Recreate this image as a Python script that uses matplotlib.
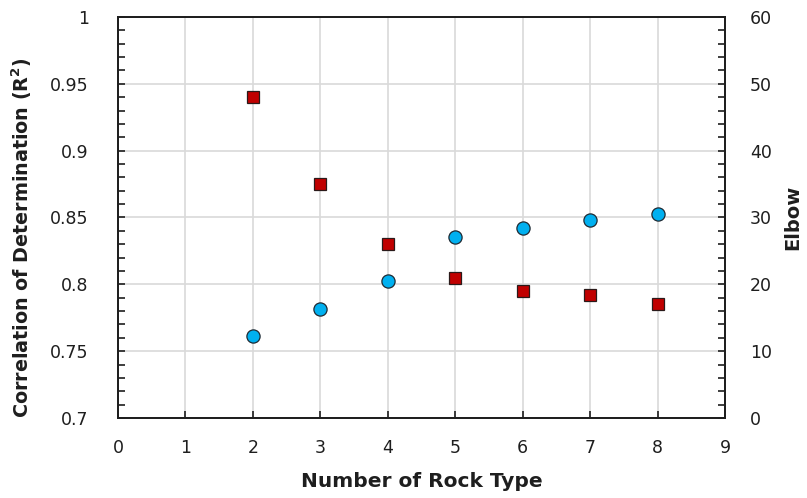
import matplotlib
matplotlib.use("Agg")
import matplotlib.pyplot as plt
from matplotlib.ticker import MultipleLocator

plt.rcParams["font.family"] = ["DejaVu Sans"]

# data
rock_types = [2, 3, 4, 5, 6, 7, 8]
r2_values = [0.7614, 0.7819, 0.8024, 0.8351, 0.8419, 0.8484, 0.8526]
elbow_values = [48, 35, 26, 21, 19, 18.4, 17]

fig = plt.figure(figsize=(8.07, 4.98), dpi=100)
ax = fig.add_axes([118 / 807, 80 / 498, (725 - 118) / 807, (418 - 17) / 498])
ax2 = ax.twinx()

grid_color = "#D9D9D9"
text_color = "#1E1E1E"
ax.set_xlim(0, 9)
ax.set_ylim(0.7, 1.0)
ax2.set_ylim(0, 60)
ax.set_xticks(range(0, 10))
ax.set_yticks([0.7, 0.75, 0.8, 0.85, 0.9, 0.95, 1.0])
ax.set_yticklabels(["0.7", "0.75", "0.8", "0.85", "0.9", "0.95", "1"])
ax.yaxis.set_minor_locator(MultipleLocator(0.01))
ax2.set_yticks(range(0, 61, 10))
ax2.yaxis.set_minor_locator(MultipleLocator(2))

ax.grid(True, which="major", color=grid_color, linewidth=1.2)
ax.set_axisbelow(True)

ax.tick_params(axis="x", direction="in", length=5, width=1.2, labelsize=12.5, pad=15, colors=text_color)
ax.tick_params(axis="y", which="both", direction="in", length=5, width=1.2, labelsize=12.5, pad=21,
               colors=text_color, right=False)
ax2.tick_params(axis="y", which="both", direction="in", length=5, width=1.2, labelsize=12.5, pad=18,
                colors=text_color)
for a in (ax, ax2):
    for s in a.spines.values():
        s.set_linewidth(1.3)
        s.set_color(text_color)

ax.plot(rock_types, r2_values, linestyle="none", marker="o", markersize=9.5,
        markerfacecolor="#00B0F0", markeredgecolor="#1F2A33", markeredgewidth=0.9, zorder=3)
ax2.plot(rock_types, elbow_values, linestyle="none", marker="s", markersize=8.5,
         markerfacecolor="#C00000", markeredgecolor="#2A1A1A", markeredgewidth=0.9, zorder=3)

ax.set_xlabel("Number of Rock Type", fontsize=14.5, fontweight="bold", color=text_color)
ax.set_ylabel("Correlation of Determination (R$^\\mathbf{2}$)", fontsize=13.8, fontweight="bold",
              color=text_color)
ax2.set_ylabel("Elbow", fontsize=14, fontweight="bold", color=text_color)

# place axis titles where the reference has them
ax.xaxis.set_label_coords(0.5, (418 - 481) / 401)
ax.xaxis.label.set_va("center")
ax.yaxis.set_label_coords((22 - 118) / 607, (418 - 238) / 401)
ax.yaxis.label.set_va("center")
ax2.yaxis.set_label_coords((793 - 118) / 607, 0.5)
ax2.yaxis.label.set_va("center")

fig.savefig("out.png", dpi=100)
